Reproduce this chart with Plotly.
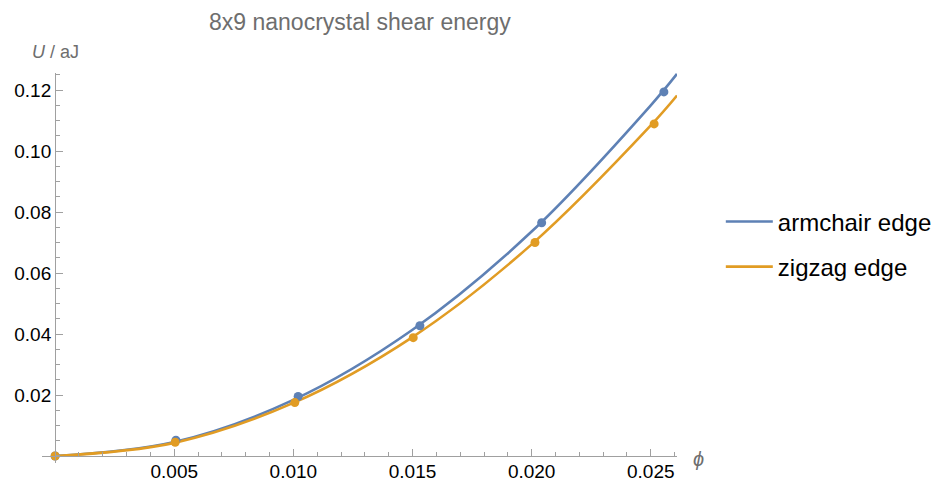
import plotly.graph_objects as go

# Data points
phi_armchair = [0.0, 0.00507, 0.01020, 0.01531, 0.02042, 0.02555]
U_armchair = [0.0, 0.0052, 0.0195, 0.0427, 0.0765, 0.1194]
phi_zigzag = [0.0, 0.00504, 0.01006, 0.01503, 0.02014, 0.02514]
U_zigzag = [0.0, 0.0045, 0.0175, 0.0388, 0.0700, 0.1089]

# Fitted curves
curve_phi = [0.0, 0.005, 0.010, 0.015, 0.020, 0.025, 0.0261]
curve_armchair = [0.0, 0.0046, 0.0184, 0.0414, 0.0736, 0.1150, 0.1253]
curve_zigzag = [0.0, 0.0043, 0.0174, 0.0390, 0.0694, 0.1084, 0.1182]

x_ticks = [0.005, 0.010, 0.015, 0.020, 0.025]
x_ticklabels = ["0.005", "0.010", "0.015", "0.020", "0.025"]
y_ticks = [0.02, 0.04, 0.06, 0.08, 0.10, 0.12]
y_ticklabels = ["0.02", "0.04", "0.06", "0.08", "0.10", "0.12"]

BLUE = "#5E81B5"
ORANGE = "#E19C24"
FONT = "Liberation Sans, Arial, sans-serif"

x_range = [-0.00055, 0.0261]
y_range = [-0.0023, 0.1256]

fig = go.Figure()
fig.add_trace(go.Scatter(x=curve_phi, y=curve_armchair, mode="lines", name="armchair edge",
                         line=dict(color=BLUE, width=2.6, shape="spline"), legendgroup="a"))
fig.add_trace(go.Scatter(x=curve_phi, y=curve_zigzag, mode="lines", name="zigzag edge",
                         line=dict(color=ORANGE, width=2.6, shape="spline"), legendgroup="z"))
fig.add_trace(go.Scatter(x=phi_armchair, y=U_armchair, mode="markers", showlegend=False,
                         marker=dict(color=BLUE, size=9), cliponaxis=False))
fig.add_trace(go.Scatter(x=phi_zigzag, y=U_zigzag, mode="markers", showlegend=False,
                         marker=dict(color=ORANGE, size=9), cliponaxis=False))

L, R, T, B = 42, 261, 73, 19
fig.update_layout(
    width=938, height=482,
    margin=dict(l=L, r=R, t=T, b=B, autoexpand=False),
    plot_bgcolor="white", paper_bgcolor="white",
    font=dict(family=FONT, size=19, color="black"),
    showlegend=True,
    legend=dict(x=1.069, y=0.676, xanchor="left", yanchor="top",
                font=dict(size=24, color="black"), tracegroupgap=11,
                bgcolor="rgba(0,0,0,0)", itemwidth=47),
    annotations=[
        dict(text="8x9 nanocrystal shear energy", xref="paper", yref="paper",
             x=0.5, y=1, yshift=51, xanchor="center", yanchor="middle",
             showarrow=False, font=dict(size=23, color="#6E6E6E", family=FONT)),
        dict(text="<i>U</i> / aJ", xref="paper", yref="paper",
             x=0, xshift=-12, y=1, yshift=21, xanchor="left", yanchor="middle",
             showarrow=False, font=dict(size=18, color="#6E6E6E", family=FONT)),
        dict(text="<i>ϕ</i>", xref="paper", yref="y",
             x=1, xshift=14, y=0, yshift=-3, xanchor="left", yanchor="middle",
             showarrow=False, font=dict(size=20, color="#6E6E6E", family=FONT)),
    ],
)

x_pos = (0 - y_range[0]) / (y_range[1] - y_range[0])
y_pos = (0 - x_range[0]) / (x_range[1] - x_range[0])

fig.update_layout(
    xaxis=dict(range=x_range, autorange=False, showgrid=False, zeroline=False, automargin=False,
               showline=True, linecolor="#A0A0A0", linewidth=1.2,
               anchor="free", position=x_pos,
               tickmode="array", tickvals=x_ticks, ticktext=x_ticklabels,
               ticks="inside", ticklen=7, tickcolor="#A0A0A0", tickwidth=1,
               ticklabelstandoff=-2,
               minor=dict(ticks="inside", tick0=0, dtick=0.001, ticklen=4,
                          tickcolor="#A0A0A0", showgrid=False),
               tickfont=dict(size=19, color="black")),
    yaxis=dict(range=y_range, autorange=False, showgrid=False, zeroline=False, automargin=False,
               showline=True, linecolor="#A0A0A0", linewidth=1.2,
               anchor="free", position=y_pos,
               tickmode="array", tickvals=y_ticks, ticktext=y_ticklabels,
               ticks="inside", ticklen=7, tickcolor="#A0A0A0", tickwidth=1,
               minor=dict(ticks="inside", tick0=0, dtick=0.005, ticklen=4,
                          tickcolor="#A0A0A0", showgrid=False),
               tickfont=dict(size=19, color="black")),
)

fig.write_html("out.html", config={"displayModeBar": False},
               post_script="document.body.style.margin='0px';document.body.style.padding='0px';")
